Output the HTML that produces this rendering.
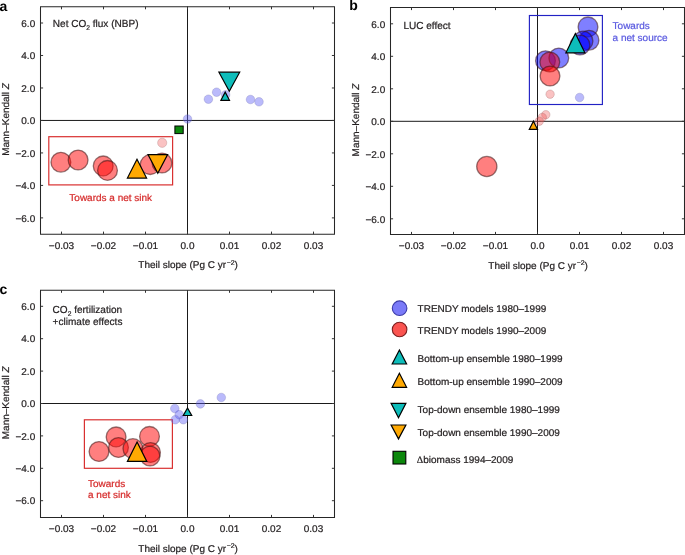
<!DOCTYPE html>
<html><head><meta charset="utf-8"><style>
html,body{margin:0;padding:0;background:#fff;width:685px;height:555px;overflow:hidden}
svg{display:block;will-change:transform;opacity:0.999}
.t{text-rendering:geometricPrecision;font-family:"Liberation Sans", sans-serif;font-size:9.8px;color:#231f20;fill:currentColor;stroke:currentColor;stroke-width:0.22px}
tspan{}
.tt{font-size:10.2px}
.lab{text-rendering:geometricPrecision;font-family:"Liberation Sans", sans-serif;font-size:14px;font-weight:bold;fill:#000}
</style></head><body>
<svg width="685" height="555" viewBox="0 0 685 555">
<rect width="685" height="555" fill="#fff"/>
<path d="M40.5,6.7H334.5V234.2H40.5Z" fill="none" stroke="#262626" stroke-width="1.05"/>
<path d="M40.5,120.45H334.5M187.5,6.7V234.2" fill="none" stroke="#1a1a1a" stroke-width="1"/>
<text transform="translate(61.50,248.90) scale(1.02,1)" text-anchor="middle" class="t">−0.03</text>
<text transform="translate(103.50,248.90) scale(1.02,1)" text-anchor="middle" class="t">−0.02</text>
<text transform="translate(145.50,248.90) scale(1.02,1)" text-anchor="middle" class="t">−0.01</text>
<text transform="translate(187.50,248.90) scale(1.02,1)" text-anchor="middle" class="t">0.0</text>
<text transform="translate(229.50,248.90) scale(1.02,1)" text-anchor="middle" class="t">0.01</text>
<text transform="translate(271.50,248.90) scale(1.02,1)" text-anchor="middle" class="t">0.02</text>
<text transform="translate(313.50,248.90) scale(1.02,1)" text-anchor="middle" class="t">0.03</text>
<text transform="translate(35.20,221.59) scale(1.02,1)" text-anchor="end" class="t">−6.0</text>
<text transform="translate(35.20,189.11) scale(1.02,1)" text-anchor="end" class="t">−4.0</text>
<text transform="translate(35.20,156.63) scale(1.02,1)" text-anchor="end" class="t">−2.0</text>
<text transform="translate(35.20,124.15) scale(1.02,1)" text-anchor="end" class="t">0.0</text>
<text transform="translate(35.20,91.67) scale(1.02,1)" text-anchor="end" class="t">2.0</text>
<text transform="translate(35.20,59.19) scale(1.02,1)" text-anchor="end" class="t">4.0</text>
<text transform="translate(35.20,26.71) scale(1.02,1)" text-anchor="end" class="t">6.0</text>
<path d="M61.50,234.2v-2.6M61.50,6.7v2.6M103.50,234.2v-2.6M103.50,6.7v2.6M145.50,234.2v-2.6M145.50,6.7v2.6M187.50,234.2v-2.6M187.50,6.7v2.6M229.50,234.2v-2.6M229.50,6.7v2.6M271.50,234.2v-2.6M271.50,6.7v2.6M313.50,234.2v-2.6M313.50,6.7v2.6M40.5,217.89h2.6M334.5,217.89h-2.6M40.5,185.41h2.6M334.5,185.41h-2.6M40.5,152.93h2.6M334.5,152.93h-2.6M40.5,120.45h2.6M334.5,120.45h-2.6M40.5,87.97h2.6M334.5,87.97h-2.6M40.5,55.49h2.6M334.5,55.49h-2.6M40.5,23.01h2.6M334.5,23.01h-2.6" fill="none" stroke="#333" stroke-width="1"/>
<text transform="translate(188.10,268.40) scale(1.02,1)" text-anchor="middle" class="t">Theil slope (Pg C yr<tspan dx="0.6" dy="-3.9" font-size="6.8">−2</tspan><tspan dy="3.9">)</tspan></text>
<text transform="translate(9.00,119.45) rotate(-90) scale(1.02,1)" text-anchor="middle" class="t">Mann–Kendall <tspan font-style="italic">Z</tspan></text>
<text x="-0.6" y="10.6" class="lab">a</text>
<text transform="translate(52.80,26.80) scale(0.985,1)" class="t tt">Net CO<tspan dy="3" font-size="6.8">2</tspan><tspan dy="-3"> flux (NBP)</tspan></text>
<rect x="48.8" y="136.7" width="123.8" height="48.2" fill="none" stroke="#d93030" stroke-width="1.2"/>
<text transform="translate(110.70,200.80) scale(1.02,1)" text-anchor="middle" class="t" style="color:#d62c2c">Towards a net sink</text>
<circle cx="208.4" cy="99.2" r="4.3" fill="rgba(90,90,245,0.42)" stroke="rgba(110,110,170,0.35)" stroke-width="0.8"/>
<circle cx="216.6" cy="92.2" r="4.3" fill="rgba(90,90,245,0.42)" stroke="rgba(110,110,170,0.35)" stroke-width="0.8"/>
<circle cx="225.6" cy="94.8" r="4.3" fill="rgba(90,90,245,0.42)" stroke="rgba(110,110,170,0.35)" stroke-width="0.8"/>
<circle cx="250.5" cy="99.5" r="4.3" fill="rgba(90,90,245,0.42)" stroke="rgba(110,110,170,0.35)" stroke-width="0.8"/>
<circle cx="259" cy="101.8" r="4.3" fill="rgba(90,90,245,0.42)" stroke="rgba(110,110,170,0.35)" stroke-width="0.8"/>
<circle cx="187.5" cy="119" r="4.3" fill="rgba(90,90,245,0.42)" stroke="rgba(110,110,170,0.35)" stroke-width="0.8"/>
<circle cx="162.2" cy="142.8" r="4.6" fill="rgba(240,80,80,0.35)" stroke="rgba(150,90,90,0.35)" stroke-width="0.8"/>
<circle cx="60.9" cy="162.2" r="9.9" fill="rgba(255,0,0,0.5)" stroke="rgba(60,20,20,0.55)" stroke-width="1.3"/>
<circle cx="78.1" cy="160" r="9.9" fill="rgba(255,0,0,0.5)" stroke="rgba(60,20,20,0.55)" stroke-width="1.3"/>
<circle cx="103.2" cy="165.9" r="9.9" fill="rgba(255,0,0,0.5)" stroke="rgba(60,20,20,0.55)" stroke-width="1.3"/>
<circle cx="107.5" cy="170.4" r="9.9" fill="rgba(255,0,0,0.5)" stroke="rgba(60,20,20,0.55)" stroke-width="1.3"/>
<circle cx="150.2" cy="164.6" r="9.9" fill="rgba(255,0,0,0.5)" stroke="rgba(60,20,20,0.55)" stroke-width="1.3"/>
<circle cx="162" cy="163" r="9.9" fill="rgba(255,0,0,0.5)" stroke="rgba(60,20,20,0.55)" stroke-width="1.3"/>
<polygon points="218.9,72.2 239.70000000000002,72.2 229.3,91.3" fill="#0dbdba" stroke="#000" stroke-width="1.2"/>
<polygon points="225.2,92.1 220.89999999999998,100.3 229.5,100.3" fill="#0dbdba" stroke="#000" stroke-width="1.2"/>
<rect x="174.9" y="126" width="8.3" height="7.6" fill="#0c870c" stroke="#000" stroke-width="1"/>
<polygon points="137,159.2 127.4,178.1 146.6,178.1" fill="#ffa902" stroke="#000" stroke-width="1.2"/>
<polygon points="148.0,154.6 167.60000000000002,154.6 157.8,173.2" fill="#ffa902" stroke="#000" stroke-width="1.2"/>
<path d="M390.5,7.5H684.5V234.5H390.5Z" fill="none" stroke="#262626" stroke-width="1.05"/>
<path d="M390.5,121.3H684.5M537.5,7.5V234.5" fill="none" stroke="#1a1a1a" stroke-width="1"/>
<text transform="translate(411.50,249.20) scale(1.02,1)" text-anchor="middle" class="t">−0.03</text>
<text transform="translate(453.50,249.20) scale(1.02,1)" text-anchor="middle" class="t">−0.02</text>
<text transform="translate(495.50,249.20) scale(1.02,1)" text-anchor="middle" class="t">−0.01</text>
<text transform="translate(537.50,249.20) scale(1.02,1)" text-anchor="middle" class="t">0.0</text>
<text transform="translate(579.50,249.20) scale(1.02,1)" text-anchor="middle" class="t">0.01</text>
<text transform="translate(621.50,249.20) scale(1.02,1)" text-anchor="middle" class="t">0.02</text>
<text transform="translate(663.50,249.20) scale(1.02,1)" text-anchor="middle" class="t">0.03</text>
<text transform="translate(385.20,222.50) scale(1.02,1)" text-anchor="end" class="t">−6.0</text>
<text transform="translate(385.20,190.00) scale(1.02,1)" text-anchor="end" class="t">−4.0</text>
<text transform="translate(385.20,157.50) scale(1.02,1)" text-anchor="end" class="t">−2.0</text>
<text transform="translate(385.20,125.00) scale(1.02,1)" text-anchor="end" class="t">0.0</text>
<text transform="translate(385.20,92.50) scale(1.02,1)" text-anchor="end" class="t">2.0</text>
<text transform="translate(385.20,60.00) scale(1.02,1)" text-anchor="end" class="t">4.0</text>
<text transform="translate(385.20,27.50) scale(1.02,1)" text-anchor="end" class="t">6.0</text>
<path d="M411.50,234.5v-2.6M411.50,7.5v2.6M453.50,234.5v-2.6M453.50,7.5v2.6M495.50,234.5v-2.6M495.50,7.5v2.6M537.50,234.5v-2.6M537.50,7.5v2.6M579.50,234.5v-2.6M579.50,7.5v2.6M621.50,234.5v-2.6M621.50,7.5v2.6M663.50,234.5v-2.6M663.50,7.5v2.6M390.5,218.80h2.6M684.5,218.80h-2.6M390.5,186.30h2.6M684.5,186.30h-2.6M390.5,153.80h2.6M684.5,153.80h-2.6M390.5,121.30h2.6M684.5,121.30h-2.6M390.5,88.80h2.6M684.5,88.80h-2.6M390.5,56.30h2.6M684.5,56.30h-2.6M390.5,23.80h2.6M684.5,23.80h-2.6" fill="none" stroke="#333" stroke-width="1"/>
<text transform="translate(538.10,268.70) scale(1.02,1)" text-anchor="middle" class="t">Theil slope (Pg C yr<tspan dx="0.6" dy="-3.9" font-size="6.8">−2</tspan><tspan dy="3.9">)</tspan></text>
<text transform="translate(359.00,120.00) rotate(-90) scale(1.02,1)" text-anchor="middle" class="t">Mann–Kendall <tspan font-style="italic">Z</tspan></text>
<text x="349.2" y="10.4" class="lab">b</text>
<text transform="translate(403.40,28.60) scale(0.985,1)" class="t tt">LUC effect</text>
<rect x="529.4" y="15.5" width="73" height="89" fill="none" stroke="#2222c4" stroke-width="1.15"/>
<text transform="translate(612.60,29.20) scale(1.02,1)" class="t" style="color:#5a5ae0">Towards</text>
<text transform="translate(612.60,40.90) scale(1.02,1)" class="t" style="color:#5a5ae0">a net source</text>
<circle cx="579.6" cy="97.5" r="4.3" fill="rgba(90,90,245,0.42)" stroke="rgba(110,110,170,0.35)" stroke-width="0.8"/>
<circle cx="550.1" cy="94.2" r="4.2" fill="rgba(240,80,80,0.35)" stroke="rgba(150,90,90,0.35)" stroke-width="0.8"/>
<circle cx="545.8" cy="114.7" r="4.2" fill="rgba(240,80,80,0.35)" stroke="rgba(150,90,90,0.35)" stroke-width="0.8"/>
<circle cx="542.3" cy="117.4" r="4.2" fill="rgba(240,80,80,0.35)" stroke="rgba(150,90,90,0.35)" stroke-width="0.8"/>
<circle cx="539.3" cy="121.2" r="4.2" fill="rgba(240,80,80,0.35)" stroke="rgba(150,90,90,0.35)" stroke-width="0.8"/>
<circle cx="486.8" cy="166.5" r="10.1" fill="rgba(255,0,0,0.5)" stroke="rgba(60,20,20,0.55)" stroke-width="1.3"/>
<circle cx="588" cy="26.9" r="9.9" fill="rgba(0,0,255,0.5)" stroke="rgba(60,20,20,0.55)" stroke-width="1.3"/>
<circle cx="589" cy="40.2" r="9.9" fill="rgba(0,0,255,0.5)" stroke="rgba(60,20,20,0.55)" stroke-width="1.3"/>
<circle cx="583" cy="41" r="9.9" fill="rgba(0,0,255,0.5)" stroke="rgba(60,20,20,0.55)" stroke-width="1.3"/>
<circle cx="580" cy="45" r="9.9" fill="rgba(0,0,255,0.5)" stroke="rgba(60,20,20,0.55)" stroke-width="1.3"/>
<circle cx="545.5" cy="60.7" r="9.9" fill="rgba(0,0,255,0.5)" stroke="rgba(60,20,20,0.55)" stroke-width="1.3"/>
<circle cx="558.8" cy="58" r="9.9" fill="rgba(0,0,255,0.5)" stroke="rgba(60,20,20,0.55)" stroke-width="1.3"/>
<circle cx="549.8" cy="62" r="9.9" fill="rgba(255,0,0,0.5)" stroke="rgba(60,20,20,0.55)" stroke-width="1.3"/>
<circle cx="550" cy="76" r="9.9" fill="rgba(255,0,0,0.5)" stroke="rgba(60,20,20,0.55)" stroke-width="1.3"/>
<polygon points="575.4,33.6 565.9,52.8 584.9,52.8" fill="#0dbdba" stroke="#000" stroke-width="1.2"/>
<polygon points="533.4,121.2 529.3,129.3 537.5,129.3" fill="#ffa902" stroke="#000" stroke-width="1.2"/>
<path d="M40.5,290.2H334.5V517.5H40.5Z" fill="none" stroke="#262626" stroke-width="1.05"/>
<path d="M40.5,403.5H334.5M187.5,290.2V517.5" fill="none" stroke="#1a1a1a" stroke-width="1"/>
<text transform="translate(61.50,532.20) scale(1.02,1)" text-anchor="middle" class="t">−0.03</text>
<text transform="translate(103.50,532.20) scale(1.02,1)" text-anchor="middle" class="t">−0.02</text>
<text transform="translate(145.50,532.20) scale(1.02,1)" text-anchor="middle" class="t">−0.01</text>
<text transform="translate(187.50,532.20) scale(1.02,1)" text-anchor="middle" class="t">0.0</text>
<text transform="translate(229.50,532.20) scale(1.02,1)" text-anchor="middle" class="t">0.01</text>
<text transform="translate(271.50,532.20) scale(1.02,1)" text-anchor="middle" class="t">0.02</text>
<text transform="translate(313.50,532.20) scale(1.02,1)" text-anchor="middle" class="t">0.03</text>
<text transform="translate(35.20,504.40) scale(1.02,1)" text-anchor="end" class="t">−6.0</text>
<text transform="translate(35.20,472.00) scale(1.02,1)" text-anchor="end" class="t">−4.0</text>
<text transform="translate(35.20,439.60) scale(1.02,1)" text-anchor="end" class="t">−2.0</text>
<text transform="translate(35.20,407.20) scale(1.02,1)" text-anchor="end" class="t">0.0</text>
<text transform="translate(35.20,374.80) scale(1.02,1)" text-anchor="end" class="t">2.0</text>
<text transform="translate(35.20,342.40) scale(1.02,1)" text-anchor="end" class="t">4.0</text>
<text transform="translate(35.20,310.00) scale(1.02,1)" text-anchor="end" class="t">6.0</text>
<path d="M61.50,517.5v-2.6M61.50,290.2v2.6M103.50,517.5v-2.6M103.50,290.2v2.6M145.50,517.5v-2.6M145.50,290.2v2.6M187.50,517.5v-2.6M187.50,290.2v2.6M229.50,517.5v-2.6M229.50,290.2v2.6M271.50,517.5v-2.6M271.50,290.2v2.6M313.50,517.5v-2.6M313.50,290.2v2.6M40.5,500.70h2.6M334.5,500.70h-2.6M40.5,468.30h2.6M334.5,468.30h-2.6M40.5,435.90h2.6M334.5,435.90h-2.6M40.5,403.50h2.6M334.5,403.50h-2.6M40.5,371.10h2.6M334.5,371.10h-2.6M40.5,338.70h2.6M334.5,338.70h-2.6M40.5,306.30h2.6M334.5,306.30h-2.6" fill="none" stroke="#333" stroke-width="1"/>
<text transform="translate(188.10,551.70) scale(1.02,1)" text-anchor="middle" class="t">Theil slope (Pg C yr<tspan dx="0.6" dy="-3.9" font-size="6.8">−2</tspan><tspan dy="3.9">)</tspan></text>
<text transform="translate(9.00,402.85) rotate(-90) scale(1.02,1)" text-anchor="middle" class="t">Mann–Kendall <tspan font-style="italic">Z</tspan></text>
<text x="-0.6" y="293.8" class="lab">c</text>
<text transform="translate(52.60,313.10) scale(0.985,1)" class="t tt">CO<tspan dy="2.6" font-size="6.8">2</tspan><tspan dy="-2.6"> fertilization</tspan></text>
<text transform="translate(52.60,324.60) scale(0.985,1)" class="t tt">+climate effects</text>
<rect x="84.4" y="419.8" width="88" height="48.5" fill="none" stroke="#d93030" stroke-width="1.2"/>
<text transform="translate(88.00,486.60) scale(1.02,1)" class="t" style="color:#d62c2c">Towards</text>
<text transform="translate(88.00,498.30) scale(1.02,1)" class="t" style="color:#d62c2c">a net sink</text>
<circle cx="174.8" cy="408.5" r="4.3" fill="rgba(90,90,245,0.42)" stroke="rgba(110,110,170,0.35)" stroke-width="0.8"/>
<circle cx="179.2" cy="414.6" r="4.3" fill="rgba(90,90,245,0.42)" stroke="rgba(110,110,170,0.35)" stroke-width="0.8"/>
<circle cx="175.3" cy="419.7" r="4.3" fill="rgba(90,90,245,0.42)" stroke="rgba(110,110,170,0.35)" stroke-width="0.8"/>
<circle cx="183.3" cy="419.7" r="4.3" fill="rgba(90,90,245,0.42)" stroke="rgba(110,110,170,0.35)" stroke-width="0.8"/>
<circle cx="200.4" cy="403.9" r="4.3" fill="rgba(90,90,245,0.42)" stroke="rgba(110,110,170,0.35)" stroke-width="0.8"/>
<circle cx="221.3" cy="397.5" r="4.3" fill="rgba(90,90,245,0.42)" stroke="rgba(110,110,170,0.35)" stroke-width="0.8"/>
<circle cx="99" cy="451.5" r="9.9" fill="rgba(255,0,0,0.5)" stroke="rgba(60,20,20,0.55)" stroke-width="1.3"/>
<circle cx="116.1" cy="436.9" r="9.9" fill="rgba(255,0,0,0.5)" stroke="rgba(60,20,20,0.55)" stroke-width="1.3"/>
<circle cx="118.5" cy="447.5" r="9.9" fill="rgba(255,0,0,0.5)" stroke="rgba(60,20,20,0.55)" stroke-width="1.3"/>
<circle cx="132.9" cy="448.6" r="9.9" fill="rgba(255,0,0,0.5)" stroke="rgba(60,20,20,0.55)" stroke-width="1.3"/>
<circle cx="149.5" cy="436.4" r="9.9" fill="rgba(255,0,0,0.5)" stroke="rgba(60,20,20,0.55)" stroke-width="1.3"/>
<circle cx="150.5" cy="452.5" r="9.9" fill="rgba(255,0,0,0.5)" stroke="rgba(60,20,20,0.55)" stroke-width="1.3"/>
<circle cx="150" cy="456" r="9.9" fill="rgba(255,0,0,0.5)" stroke="rgba(60,20,20,0.55)" stroke-width="1.3"/>
<polygon points="137.1,442 127.39999999999999,461.4 146.79999999999998,461.4" fill="#ffa902" stroke="#000" stroke-width="1.2"/>
<polygon points="187.5,408 183.3,415.5 191.7,415.5" fill="#0dbdba" stroke="#000" stroke-width="1.2"/>
<circle cx="399.6" cy="308.2" r="7.3" fill="#7a7af8" stroke="#3a3aa8" stroke-width="1.1"/>
<circle cx="399.6" cy="329.5" r="7.3" fill="#fa5450" stroke="#7a2020" stroke-width="1.1"/>
<polygon points="399.4,350 392.2,364 406.59999999999997,364" fill="#0dbdba" stroke="#000" stroke-width="1.2"/>
<polygon points="399.4,373.3 392.2,387.3 406.59999999999997,387.3" fill="#ffa902" stroke="#000" stroke-width="1.2"/>
<polygon points="391.1,403.3 405.9,403.3 398.5,417.7" fill="#0dbdba" stroke="#000" stroke-width="1.2"/>
<polygon points="391.1,425 405.9,425 398.5,438.9" fill="#ffa902" stroke="#000" stroke-width="1.2"/>
<rect x="393" y="451.3" width="12.8" height="12.7" fill="#0c870c" stroke="#000" stroke-width="1.1"/>
<text transform="translate(417.60,311.70) scale(1.02,1)" class="t">TRENDY models 1980–1999</text>
<text transform="translate(417.60,333.70) scale(1.02,1)" class="t">TRENDY models 1990–2009</text>
<text transform="translate(417.60,362.10) scale(1.02,1)" class="t">Bottom-up ensemble 1980–1999</text>
<text transform="translate(417.60,385.20) scale(1.02,1)" class="t">Bottom-up ensemble 1990–2009</text>
<text transform="translate(417.60,413.00) scale(1.02,1)" class="t">Top-down ensemble 1980–1999</text>
<text transform="translate(417.60,435.70) scale(1.02,1)" class="t">Top-down ensemble 1990–2009</text>
<text transform="translate(416.80,462.50) scale(1.02,1)" class="t"><tspan font-family="'Liberation Serif', serif">Δ</tspan>biomass 1994–2009</text>
</svg>
</body></html>
